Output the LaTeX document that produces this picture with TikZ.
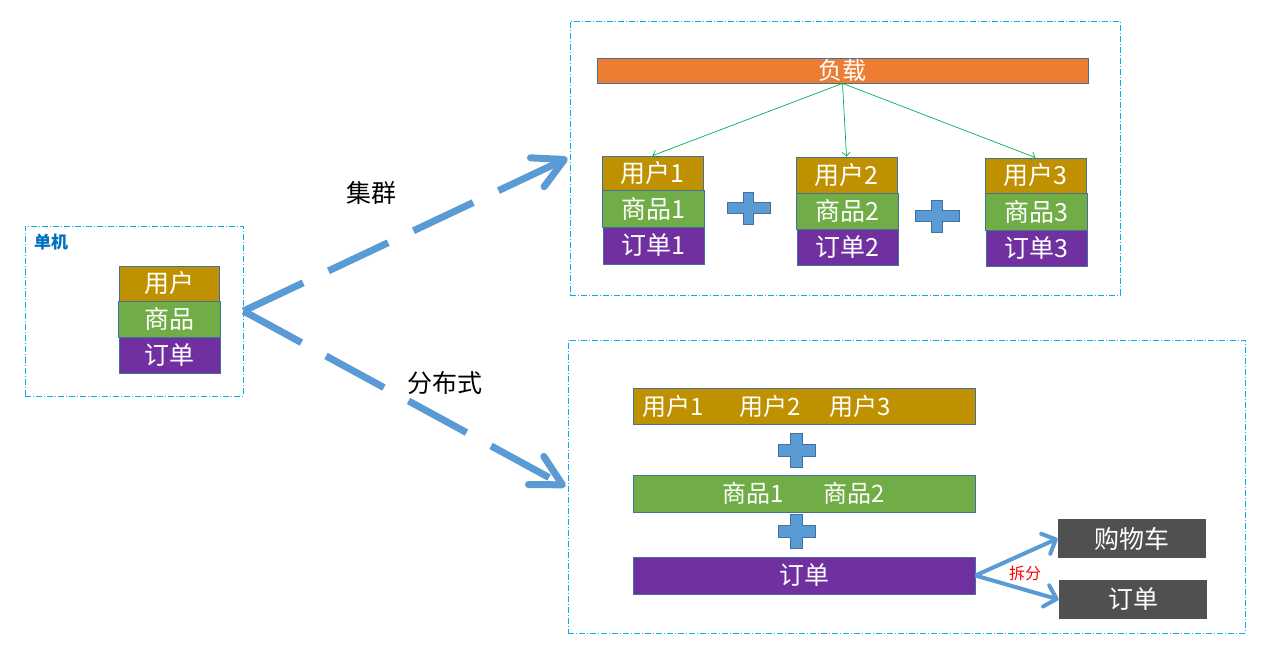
\documentclass[tikz,border=0pt]{standalone}
\usepackage{fontspec}
\setmainfont{Noto Sans CJK SC}
\usetikzlibrary{arrows.meta}
\definecolor{cgold}{HTML}{BF9000}
\definecolor{cgreen}{HTML}{70AD47}
\definecolor{cpurple}{HTML}{7030A0}
\definecolor{corange}{HTML}{ED7D31}
\definecolor{cdark}{HTML}{505050}
\definecolor{cedge}{HTML}{41719C}
\definecolor{cblue}{HTML}{5B9BD5}
\definecolor{cframe}{HTML}{00B0F0}
\definecolor{cgarrow}{HTML}{00B050}
\definecolor{clabel}{HTML}{0070C0}
\newcommand\myplus[5]{%
\filldraw[plusst] ({#1-#3},{#2-#5}) -- ({#1-#5},{#2-#5}) -- ({#1-#5},{#2-#4}) -- ({#1+#5},{#2-#4}) -- ({#1+#5},{#2-#5}) -- ({#1+#3},{#2-#5}) -- ({#1+#3},{#2+#5}) -- ({#1+#5},{#2+#5}) -- ({#1+#5},{#2+#4}) -- ({#1-#5},{#2+#4}) -- ({#1-#5},{#2+#5}) -- ({#1-#3},{#2+#5}) -- cycle;}
\begin{document}
\begin{tikzpicture}[x=1pt,y=-1pt,
  box/.style={draw=cedge, line width=0.8pt, text=white, inner sep=0pt, font=\fontsize{25}{25}\selectfont},
  frame/.style={draw=cframe, line width=0.9pt, dash pattern=on 6pt off 2pt on 1pt off 2pt, inner sep=0pt},
  plusst/.style={fill=cblue, draw=cedge, line width=0.8pt},
  bigarrow/.style={cblue, line width=7pt, dash pattern=on 66pt off 28pt, -{Straight Barb[length=30pt,width=32pt,line width=7pt,round]}},
  garrow/.style={cgarrow, line width=0.7pt, -{Straight Barb[length=4pt,width=8pt]}},
  splitarrow/.style={cblue, line width=4pt, -{Straight Barb[length=11pt,width=22pt,line width=4pt,round]}},
  lbl/.style={font=\fontsize{25}{25}\selectfont, text=black, inner sep=0pt}
]
\useasboundingbox (0,0) rectangle (1271,651);
\fill[white] (0,0) rectangle (1271,651);

% frames
\node[frame, minimum width=218pt, minimum height=170pt] (single) at (134,311) {};
\node[frame, minimum width=550pt, minimum height=274pt] (cluster) at (845,158) {};
\node[frame, minimum width=677pt, minimum height=293pt] (dist) at (906.5,486.5) {};
\node[anchor=west, inner sep=0pt, text=clabel, font=\fontsize{17}{17}\selectfont\bfseries] (singlelbl) at (34,242) {单机};

% single machine stack
\node[box, fill=cgold, minimum width=100pt, minimum height=35pt] (su) at (169,283.5) {用户};
\node[box, fill=cgreen, minimum width=102pt, minimum height=36pt] (sg) at (169,319) {商品};
\node[box, fill=cpurple, minimum width=101pt, minimum height=36pt] (so) at (169.5,355) {订单};

% cluster
\node[box, fill=corange, minimum width=491pt, minimum height=25pt, font=\fontsize{24}{24}\selectfont] (load) at (842.5,70.5) {负载};

\node[box, fill=cgold, minimum width=101pt, minimum height=34pt] (u1) at (652.5,173) {用户1};
\node[box, fill=cgreen, minimum width=102pt, minimum height=37pt] (g1) at (653,208.5) {商品1};
\node[box, fill=cpurple, minimum width=101pt, minimum height=37pt] (o1) at (653.5,245.5) {订单1};

\node[box, fill=cgold, minimum width=101pt, minimum height=36pt] (u2) at (846.5,175) {用户2};
\node[box, fill=cgreen, minimum width=102pt, minimum height=36pt] (g2) at (847,211) {商品2};
\node[box, fill=cpurple, minimum width=101pt, minimum height=36pt] (o2) at (847.5,247) {订单2};

\node[box, fill=cgold, minimum width=101pt, minimum height=35pt] (u3) at (1035.5,175.5) {用户3};
\node[box, fill=cgreen, minimum width=102pt, minimum height=37pt] (g3) at (1036,211.5) {商品3};
\node[box, fill=cpurple, minimum width=101pt, minimum height=36pt] (o3) at (1036.5,248) {订单3};

\myplus{748.5}{208}{21.5}{16}{5.3}
\myplus{937}{216}{22}{16}{5.3}

\draw[garrow] (load.south) -- (u1.north);
\draw[garrow] (load.south) -- (u2.north);
\draw[garrow] (load.south) -- (u3.north);

% distributed
\node[box, fill=cgold, minimum width=342pt, minimum height=36pt] (du) at (804,406) {};
\node[anchor=west, inner sep=0pt, text=white, font=\fontsize{24}{24}\selectfont] (dutext) at (642,406) {用户1\hspace{36pt}用户2\hspace{29pt}用户3};
\node[box, fill=cgreen, minimum width=342pt, minimum height=37pt, font=\fontsize{24}{24}\selectfont] (dg) at (804,493.5) {商品1\hspace{40pt}商品2};
\node[box, fill=cpurple, minimum width=342pt, minimum height=37pt] (dord) at (804,575.5) {订单};

\myplus{796.5}{450}{18.5}{17}{6}
\myplus{796.5}{531.5}{18.5}{17}{6}

\node[box, draw=none, fill=cdark, minimum width=148pt, minimum height=39pt] (cart) at (1132,538.5) {购物车};
\node[box, draw=none, fill=cdark, minimum width=148pt, minimum height=39pt] (order2) at (1133,599.5) {订单};

\draw[splitarrow] (dord.east) -- (cart.west);
\draw[splitarrow] (dord.east) -- (order2.west);
\node[inner sep=0pt, text=red, font=\fontsize{16}{16}\selectfont] (split) at (1025,573) {拆分};

% main arrows
\draw[bigarrow] (single.east) -- ([xshift=-2pt]cluster.west);
\draw[bigarrow] (single.east) -- ([xshift=-2pt]dist.west);
\node[lbl] (jq) at (371,193) {集群};
\node[lbl] (fbs) at (445,383) {分布式};
\end{tikzpicture}
\end{document}
